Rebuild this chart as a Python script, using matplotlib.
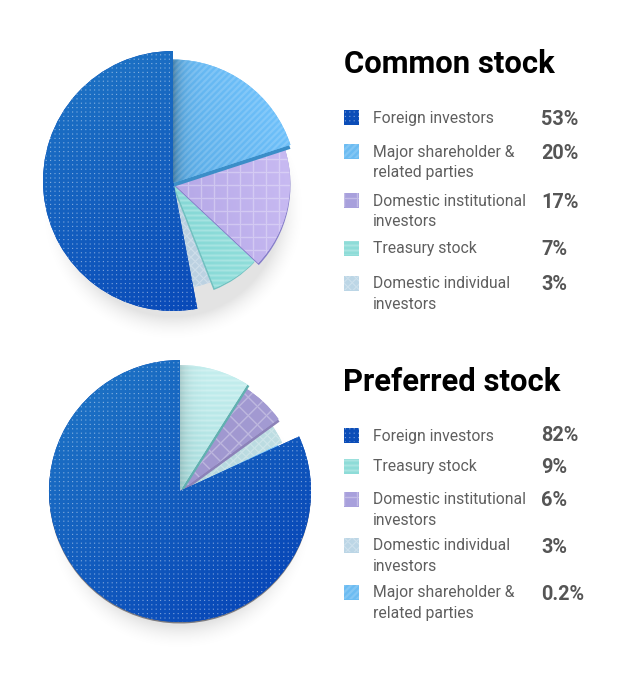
import numpy as np
import matplotlib
matplotlib.use('Agg')
import matplotlib.pyplot as plt
from matplotlib.patches import Wedge, Rectangle
from matplotlib.colors import to_rgb

W, H = 620, 673

common_labels = ['Foreign investors', 'Major shareholder &\nrelated parties',
                 'Domestic institutional\ninvestors', 'Treasury stock',
                 'Domestic individual\ninvestors']
common_values = [53, 20, 17, 7, 3]
common_text = ['53%', '20%', '17%', '7%', '3%']

preferred_labels = ['Foreign investors', 'Treasury stock',
                    'Domestic institutional\ninvestors',
                    'Domestic individual\ninvestors',
                    'Major shareholder &\nrelated parties']
preferred_values = [82, 9, 6, 3, 0.2]
preferred_text = ['82%', '9%', '6%', '3%', '0.2%']

plt.rcParams['font.family'] = ['Roboto', 'DejaVu Sans']

fig = plt.figure(figsize=(W / 100, H / 100), dpi=100)
ax = fig.add_axes([0, 0, 1, 1])

X, Y = np.meshgrid(np.arange(W) + 0.5, np.arange(H) + 0.5)


def band(u, period, width):
    # soft edged line every period px
    d = np.abs((u % period) - period / 2)
    return np.clip(width / 2 - d + 0.5, 0, 1)


def pattern(kind):
    if kind == 'dots':
        return 0.5 * band(X, 4.4, 1.1) * band(Y, 4.4, 1.1)
    if kind == 'diag':
        return 0.16 * band((X - Y) / np.sqrt(2), 4.6, 2.2)
    if kind == 'grid':
        return 0.3 * np.maximum(band(X, 13, 1.4), band(Y, 13, 1.4))
    if kind == 'diamond':
        u = (X + Y) / np.sqrt(2)
        v = (X - Y) / np.sqrt(2)
        return 0.3 * np.maximum(band(u, 13, 1.4), band(v, 13, 1.4))
    if kind == 'horiz':
        return 0.24 * band(Y, 5, 2)
    u = (X + Y) / np.sqrt(2)
    v = (X - Y) / np.sqrt(2)
    return 0.28 * np.maximum(band(u, 6, 1.1), band(v, 6, 1.1))


def texture(c1, c2, angle, cx, cy, r, kind):
    a = np.radians(angle)
    t = ((X - cx) * np.cos(a) + (Y - cy) * np.sin(a)) / r * 0.5 + 0.5
    t = np.clip(t, 0, 1)[..., None]
    rgb = np.array(to_rgb(c1)) * (1 - t) + np.array(to_rgb(c2)) * t
    p = pattern(kind)[..., None]
    return rgb * (1 - p) + p


def show(img, clip):
    im = ax.imshow(img, extent=(0, W, 0, H), origin='lower', interpolation='nearest',
                   zorder=clip.get_zorder())
    im.set_clip_path(clip)


def draw_pie(values, cx, cy, radii, looks, foreign_shift=(0, 0)):
    # pie works out the angles, then every slice gets its own radius
    total = sum(values)
    wedges, _ = ax.pie(values, startangle=90 + values[0] / total * 360, counterclock=False,
                       center=(cx, cy), radius=100)
    # soft shadow under the pie
    d = np.hypot(X - cx, Y - cy + 26)
    shade = np.zeros((H, W, 4))
    shade[..., 3] = 0.11 * np.clip((radii[0] + 4 - d) / 26, 0, 1) ** 2
    ax.imshow(shade, extent=(0, W, 0, H), origin='lower', zorder=0.5)

    for i, (w, r, lk) in enumerate(zip(wedges, radii, looks)):
        z = lk['z']
        w.set_radius(r)
        if i == 0:
            w.set_center((cx + foreign_shift[0], cy + foreign_shift[1]))
        w.set_zorder(z + 0.1)
        w.set_facecolor(lk['c2'])
        w.set_edgecolor('none')
        if lk.get('rim'):
            dx, dy, col = lk['rim']
            ax.add_patch(Wedge((cx + dx, cy + dy), r, w.theta1, w.theta2, fc=col, ec='none', zorder=z))
        show(texture(lk['c1'], lk['c2'], lk['ang'], cx, cy, r, lk['kind']), w)
        if lk.get('dark'):
            # shadow thrown by the big slice on its neighbour
            s = np.zeros((H, W, 4))
            s[..., 3] = lk['dark'] * np.exp(-np.clip(X - cx, 0, None) / 7) * (X > cx)
            im = ax.imshow(s, extent=(0, W, 0, H), origin='lower', zorder=z + 0.2)
            im.set_clip_path(w)


def legend(labels, texts, ys, val_ys, looks):
    for lab, txt, y, vy, lk in zip(labels, texts, ys, val_ys, looks):
        ty = H - y
        box = Rectangle((344, ty - 7.5), 15, 15, fc=lk['sw'], ec='none', zorder=3)
        ax.add_patch(box)
        show(texture(lk['sw'], lk['sw'], 0, 350, ty, 10, lk['swk']), box)
        ax.text(373, ty + 6.5, lab, fontsize=11.35, color='#5f5f5f', va='top', ha='left',
                linespacing=1.45, zorder=4)
        ax.text(541, H - vy - 7, txt, fontsize=14.3, color='#555555', fontweight='bold',
                va='baseline', ha='left', zorder=4)


foreign_c = dict(kind='dots', swk='dots', sw='#0b4db8')
major_c = dict(kind='diag', swk='diag', sw='#6cbcf2')
inst_c = dict(kind='grid', swk='grid', sw='#a8a0dc')
treasury_c = dict(kind='horiz', swk='horiz', sw='#8edcd8')
indiv_c = dict(kind='cross', swk='cross', sw='#bcd6e6')

common_looks = [
    dict(foreign_c, c1='#1c70c4', c2='#0848b8', ang=-60, z=6),
    dict(major_c, c1='#4596d0', c2='#6ec0fa', ang=30, z=5, rim=(0, -4, '#3b8ec8'), dark=0.3),
    dict(inst_c, c1='#a296dc', c2='#c8baf2', ang=10, z=4, rim=(0.5, -2, '#877fca')),
    dict(treasury_c, c1='#78d0d0', c2='#94e0dc', ang=0, z=3, rim=(-1, -2, '#72c0c0')),
    dict(indiv_c, c1='#b0c8d8', c2='#c4d8e8', ang=0, z=2),
]
preferred_looks = [
    dict(foreign_c, c1='#1c70c4', c2='#0848b8', ang=-50, z=6, rim=(0, -1.5, '#7a7a80')),
    dict(treasury_c, c1='#8ed0d0', c2='#c4eeee', ang=80, z=5, rim=(2, -1.5, '#62b0b0'), dark=0.15),
    dict(inst_c, kind='diamond', c1='#9a90c8', c2='#a49cd4', ang=0, z=4, rim=(1, -2.5, '#8c82b8')),
    dict(indiv_c, c1='#a8ccd4', c2='#c0dfe4', ang=0, z=3),
    dict(major_c, c1='#6ec0fa', c2='#6ec0fa', ang=0, z=2),
]

draw_pie(common_values, 173, H - 183, [130, 123.5, 117, 113, 106], common_looks, foreign_shift=(0, 2))
draw_pie(preferred_values, 180, H - 491, [131, 126, 122, 113, 108], preferred_looks)

ax.text(344, H - 73, 'Common stock', fontsize=22.3, fontweight='bold', color='black', zorder=4)
ax.text(343, H - 391, 'Preferred stock', fontsize=22.3, fontweight='bold', color='black', zorder=4)

legend(common_labels, common_text, [117, 151, 200, 248, 283], [118, 152, 201, 248, 283], common_looks)
legend(preferred_labels, preferred_text, [435, 466, 499, 545, 592], [434, 466, 499, 546, 593], preferred_looks)

ax.set_xlim(0, W)
ax.set_ylim(0, H)
ax.set_aspect('auto')
ax.axis('off')

fig.savefig('out.png', dpi=100, facecolor='white')
